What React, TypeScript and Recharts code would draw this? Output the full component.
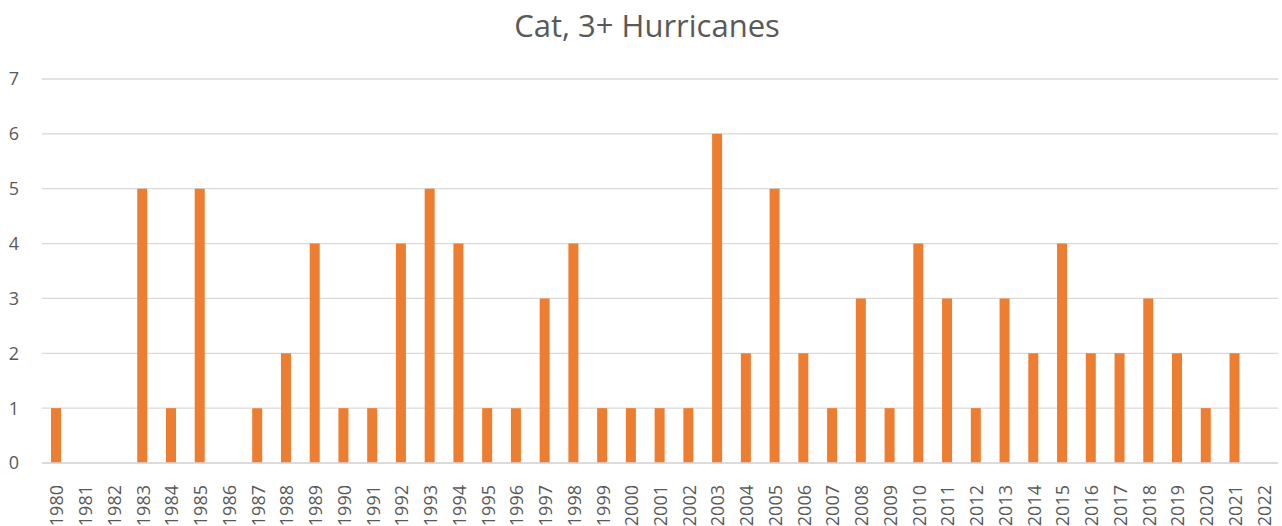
import { BarChart, Bar, XAxis, YAxis, CartesianGrid } from 'recharts';

const years = [
  '1980', '1981', '1982', '1983', '1984', '1985', '1986', '1987', '1988', '1989',
  '1990', '1991', '1992', '1993', '1994', '1995', '1996', '1997', '1998', '1999',
  '2000', '2001', '2002', '2003', '2004', '2005', '2006', '2007', '2008', '2009',
  '2010', '2011', '2012', '2013', '2014', '2015', '2016', '2017', '2018', '2019',
  '2020', '2021', '2022',
];
const hurricanes = [
  1, 0, 0, 5, 1, 5, 0, 1, 2, 4,
  1, 1, 4, 5, 4, 1, 1, 3, 4, 1,
  1, 1, 1, 6, 2, 5, 2, 1, 3, 1,
  4, 3, 1, 3, 2, 4, 2, 2, 3, 2,
  1, 2, 0,
];
const yTicks = [0, 1, 2, 3, 4, 5, 6, 7];

const data = years.map((year, i) => ({ year, value: hurricanes[i] }));

const FONT = '"Open Sans", "Liberation Sans", sans-serif';
const INK = '#595959';

const YearTick = ({ x, y, payload }: any) => (
  <text
    x={0}
    y={0}
    transform={`translate(${x},${y + 14}) rotate(-90)`}
    textAnchor="end"
    dominantBaseline="central"
    fill={INK}
    fontSize={18}
    fontFamily={FONT}
  >
    {payload.value}
  </text>
);

export default function App() {
  return (
    <div style={{ position: 'fixed', left: 0, top: 0, width: 1282, height: 526, background: '#fff' }}>
      <div
        style={{
          position: 'absolute',
          top: 4,
          left: 6,
          width: 1282,
          textAlign: 'center',
          fontFamily: FONT,
          fontSize: 31,
          color: INK,
        }}
      >
        Cat, 3+ Hurricanes
      </div>
      <BarChart
        width={1282}
        height={526}
        data={data}
        margin={{ top: 79, right: 4, left: 0, bottom: 3 }}
        barSize={10}
      >
        <CartesianGrid vertical={false} stroke="#d9d9d9" strokeWidth={1.3} />
        <XAxis
          dataKey="year"
          interval={0}
          height={60}
          tick={<YearTick />}
          tickLine={false}
          axisLine={{ stroke: '#d9d9d9', strokeWidth: 1.3 }}
        />
        <YAxis
          domain={[0, 7]}
          ticks={yTicks}
          width={42}
          tickLine={false}
          axisLine={false}
          tickSize={0}
          tickMargin={23}
          tick={{ fill: INK, fontSize: 18, fontFamily: FONT }}
        />
        <Bar dataKey="value" fill="#ed7d31" isAnimationActive={false} />
      </BarChart>
    </div>
  );
}
